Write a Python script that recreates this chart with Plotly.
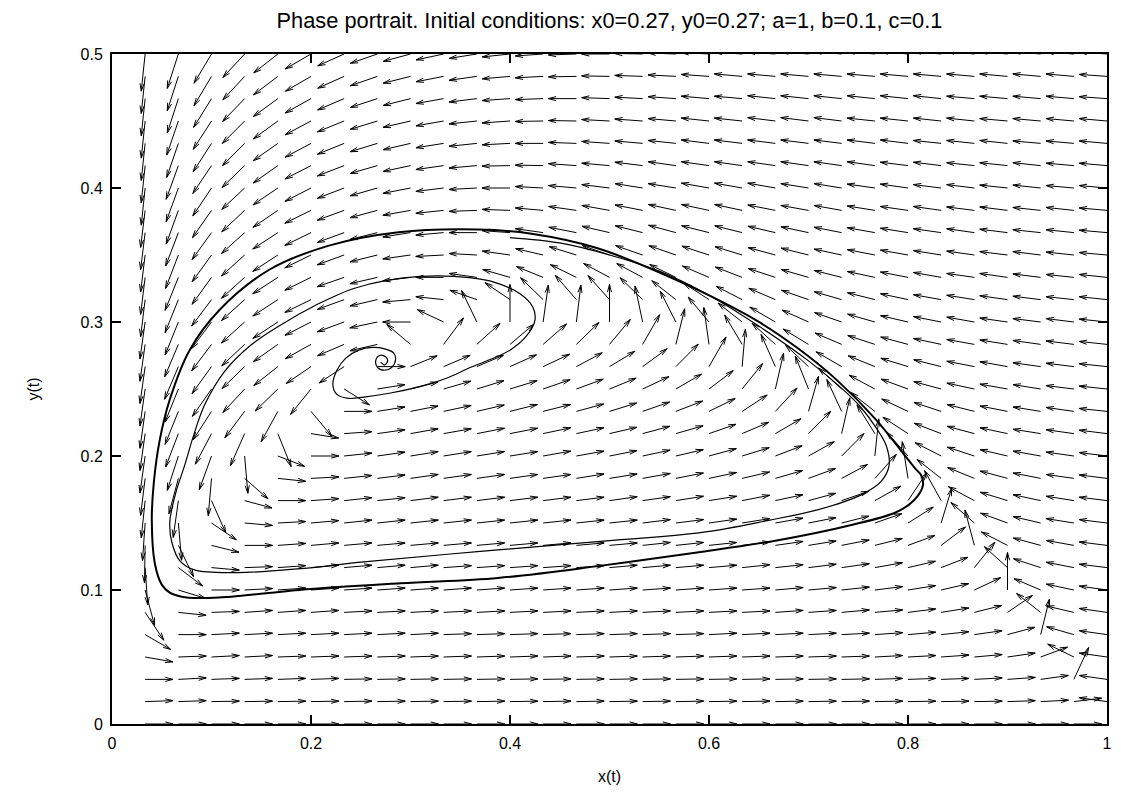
import math
import plotly.graph_objects as go

# grid of the direction field (data units)
x_nodes = [0.0333, 0.0667, 0.1, 0.1333, 0.1667, 0.2, 0.2333, 0.2667, 0.3, 0.3333,
           0.3667, 0.4, 0.4333, 0.4667, 0.5, 0.5333, 0.5667, 0.6, 0.6333, 0.6667,
           0.7, 0.7333, 0.7667, 0.8, 0.8333, 0.8667, 0.9, 0.9333, 0.9667, 1.0]
y_nodes = [0.0, 0.0167, 0.0333, 0.05, 0.0667, 0.0833, 0.1, 0.1167, 0.1333, 0.15,
           0.1667, 0.1833, 0.2, 0.2167, 0.2333, 0.25, 0.2667, 0.2833, 0.3, 0.3167,
           0.3333, 0.35, 0.3667, 0.3833, 0.4, 0.4167, 0.4333, 0.45, 0.4667, 0.4833, 0.5]

# arrow heading on screen, degrees (0 = right, 90 = up); one list per column, bottom to top
heading_deg = [
    [0, 2, 0, -10, -30, -56, -75, -86, -91, -94, -96, -97, -98, -98, -98, -98, -98, -98, -98, -97, -97, -97, -97, -97, -96, -96, -96, -96, -96, -96, -96],
    [0, 2, 3, 2, 0, -6, -17, -37, -64, -85, -98, -105, -108, -111, -112, -112, -113, -113, -112, -112, -112, -111, -111, -110, -110, -110, -109, -109, -108, -108, -108],
    [0, 1, 2, 3, 3, 2, 0, -5, -14, -34, -66, -95, -110, -118, -123, -125, -126, -127, -127, -127, -126, -126, -126, -125, -124, -124, -123, -123, -122, -121, -121],
    [0, 1, 2, 3, 3, 4, 3, 2, 0, -5, -15, -41, -85, -114, -127, -133, -136, -137, -138, -138, -138, -138, -138, -137, -137, -136, -135, -135, -134, -133, -133],
    [0, 1, 2, 2, 3, 4, 4, 4, 4, 3, 0, -6, -21, -68, -119, -136, -142, -145, -147, -147, -147, -147, -147, -146, -146, -145, -145, -144, -144, -143, -142],
    [0, 1, 2, 2, 3, 4, 4, 5, 5, 5, 4, 3, 0, -9, -50, -129, -146, -151, -153, -154, -154, -154, -154, -154, -153, -153, -152, -152, -151, -150, -150],
    [0, 1, 1, 2, 3, 3, 4, 5, 5, 6, 6, 6, 6, 4, 0, -32, -147, -157, -160, -160, -161, -160, -160, -160, -159, -159, -158, -158, -157, -156, -156],
    [0, 1, 1, 2, 3, 3, 4, 5, 5, 6, 6, 7, 8, 8, 9, 9, 0, -167, -168, -167, -167, -166, -166, -165, -164, -164, -163, -163, -162, -161, -161],
    [0, 1, 1, 2, 3, 3, 4, 5, 5, 6, 7, 8, 9, 10, 11, 14, 22, 140, 180, -175, -173, -172, -171, -170, -169, -168, -167, -167, -166, -166, -165],
    [0, 1, 1, 2, 2, 3, 4, 4, 5, 6, 7, 8, 9, 10, 12, 16, 23, 53, 155, 174, 180, -177, -175, -174, -173, -172, -171, -170, -170, -169, -168],
    [0, 1, 1, 2, 2, 3, 4, 4, 5, 6, 7, 8, 9, 11, 13, 17, 23, 42, 116, 161, 172, 177, 180, -178, -177, -175, -174, -174, -173, -172, -171],
    [0, 1, 1, 2, 2, 3, 4, 4, 5, 6, 7, 8, 9, 11, 14, 17, 24, 40, 90, 146, 164, 172, 176, 178, 180, -179, -177, -176, -176, -175, -174],
    [0, 1, 1, 2, 2, 3, 4, 4, 5, 6, 7, 8, 10, 12, 14, 19, 25, 41, 82, 136, 158, 167, 172, 175, 177, 179, 180, -179, -178, -177, -176],
    [0, 1, 1, 2, 2, 3, 4, 4, 5, 6, 7, 9, 10, 12, 15, 20, 28, 44, 83, 131, 154, 163, 169, 172, 175, 176, 178, 179, 180, -179, -178],
    [0, 1, 1, 2, 2, 3, 4, 5, 5, 6, 8, 9, 11, 13, 17, 22, 31, 50, 90, 132, 152, 161, 167, 170, 173, 175, 176, 177, 178, 179, 180],
    [0, 1, 1, 2, 2, 3, 4, 5, 6, 7, 8, 10, 12, 15, 19, 25, 36, 60, 102, 136, 152, 161, 166, 169, 171, 173, 175, 176, 177, 178, 179],
    [0, 1, 1, 2, 2, 3, 4, 5, 6, 7, 9, 11, 13, 16, 21, 30, 45, 76, 117, 142, 154, 161, 165, 168, 171, 172, 174, 175, 176, 177, 178],
    [0, 1, 1, 2, 3, 3, 4, 5, 6, 8, 9, 12, 15, 19, 26, 37, 60, 98, 130, 147, 157, 162, 166, 168, 170, 172, 173, 174, 175, 176, 177],
    [0, 1, 1, 2, 3, 3, 4, 6, 7, 9, 11, 13, 17, 23, 33, 51, 85, 121, 142, 153, 159, 163, 166, 168, 170, 172, 173, 174, 175, 175, 176],
    [0, 1, 1, 2, 3, 4, 5, 6, 8, 10, 12, 16, 21, 30, 47, 77, 114, 138, 150, 157, 162, 165, 167, 169, 170, 172, 173, 173, 174, 175, 176],
    [0, 1, 1, 2, 3, 4, 5, 7, 9, 11, 15, 20, 29, 45, 74, 112, 137, 149, 156, 161, 164, 166, 168, 170, 171, 172, 173, 173, 174, 175, 175],
    [0, 1, 1, 2, 3, 5, 6, 8, 11, 14, 19, 28, 45, 77, 115, 138, 150, 157, 161, 164, 166, 168, 169, 170, 171, 172, 173, 173, 174, 175, 175],
    [0, 1, 2, 3, 4, 5, 7, 10, 14, 19, 29, 48, 84, 122, 142, 152, 158, 162, 164, 166, 168, 169, 170, 171, 172, 172, 173, 174, 174, 175, 175],
    [0, 1, 2, 3, 5, 7, 9, 13, 20, 32, 56, 99, 132, 147, 155, 160, 163, 165, 167, 168, 169, 170, 171, 172, 172, 173, 173, 174, 174, 175, 175],
    [0, 1, 2, 4, 6, 9, 13, 21, 37, 73, 119, 142, 153, 159, 162, 165, 166, 168, 169, 170, 170, 171, 172, 172, 173, 173, 174, 174, 174, 175, 175],
    [0, 1, 3, 5, 8, 14, 25, 51, 105, 139, 152, 158, 162, 165, 166, 168, 169, 170, 170, 171, 172, 172, 172, 173, 173, 174, 174, 174, 175, 175, 175],
    [0, 2, 4, 8, 15, 34, 90, 138, 153, 160, 163, 165, 167, 168, 169, 170, 170, 171, 172, 172, 172, 173, 173, 173, 174, 174, 174, 175, 175, 175, 175],
    [0, 3, 8, 20, 76, 142, 157, 162, 165, 167, 168, 169, 170, 171, 171, 171, 172, 172, 173, 173, 173, 173, 174, 174, 174, 174, 175, 175, 175, 175, 175],
    [0, 7, 65, 154, 164, 167, 168, 169, 170, 171, 171, 172, 172, 172, 172, 173, 173, 173, 173, 174, 174, 174, 174, 174, 175, 175, 175, 175, 175, 175, 176],
    [None, 172, 172, 172, 172, 172, 172, 173, 173, 173, 173, 173, 173, 173, 174, 174, 174, 174, 174, 174, 174, 175, 175, 175, 175, 175, 175, 175, 176, 176, 176],
]

# trajectory: spiral out of the start point
traj_x = [0.270, 0.274, 0.277, 0.275, 0.269, 0.265, 0.267, 0.274, 0.281, 0.285, 0.283,
          0.274, 0.262, 0.248, 0.235, 0.226, 0.222, 0.226, 0.238, 0.253, 0.280, 0.310,
          0.336, 0.360, 0.380, 0.400, 0.416, 0.425, 0.423, 0.410, 0.383, 0.343, 0.310,
          0.276, 0.243, 0.226, 0.206, 0.170, 0.140, 0.113, 0.093, 0.081, 0.073, 0.065,
          0.060, 0.058, 0.060, 0.068, 0.083, 0.126, 0.190, 0.253, 0.373, 0.503, 0.593,
          0.660, 0.710, 0.753, 0.773, 0.781, 0.778, 0.768, 0.753, 0.740, 0.700, 0.650,
          0.600, 0.550, 0.500, 0.450, 0.400]
traj_y = [0.270, 0.268, 0.271, 0.274, 0.275, 0.271, 0.266, 0.264, 0.266, 0.272, 0.277,
          0.280, 0.281, 0.279, 0.273, 0.264, 0.253, 0.246, 0.243, 0.244, 0.247, 0.252,
          0.258, 0.266, 0.272, 0.279, 0.289, 0.301, 0.311, 0.321, 0.330, 0.334, 0.334,
          0.331, 0.325, 0.320, 0.313, 0.298, 0.283, 0.263, 0.238, 0.213, 0.193, 0.175,
          0.160, 0.150, 0.136, 0.122, 0.115, 0.113, 0.116, 0.121, 0.129, 0.137, 0.143,
          0.152, 0.160, 0.171, 0.181, 0.193, 0.208, 0.221, 0.236, 0.246, 0.271, 0.297,
          0.320, 0.338, 0.350, 0.359, 0.363]

# limit cycle (drawn heavier, several passes overlap)
cycle_x = [0.368, 0.288, 0.218, 0.158, 0.108, 0.078, 0.058, 0.048, 0.042, 0.040, 0.043,
           0.050, 0.058, 0.070, 0.088, 0.120, 0.188, 0.290, 0.388, 0.490, 0.588, 0.668,
           0.740, 0.788, 0.806, 0.815, 0.813, 0.808, 0.793, 0.768, 0.728, 0.690, 0.648,
           0.568, 0.488, 0.420, 0.368]
cycle_y = [0.369, 0.367, 0.357, 0.339, 0.309, 0.279, 0.242, 0.212, 0.180, 0.152, 0.120,
           0.104, 0.098, 0.095, 0.094, 0.095, 0.100, 0.105, 0.109, 0.118, 0.128, 0.137,
           0.148, 0.158, 0.167, 0.178, 0.186, 0.190, 0.204, 0.227, 0.257, 0.280, 0.301,
           0.331, 0.355, 0.366, 0.369]

# the page body adds an 8 px offset, so the figure is 8 px smaller on the top/left
W, H = 1113, 787
M_L, M_R, M_T, M_B = 104, 9, 46, 71
X_RANGE = (0, 1)
Y_RANGE = (0, 0.5)
ARROW_LEN = 0.028      # data units (field normalised in data space)
HEAD_PX = 8.0
HEAD_ANG = 15.0

sx = (W - M_L - M_R) / (X_RANGE[1] - X_RANGE[0])
sy = (H - M_T - M_B) / (Y_RANGE[1] - Y_RANGE[0])

ax, ay = [], []
for i, x0 in enumerate(x_nodes):
    for j, y0 in enumerate(y_nodes):
        th = heading_deg[i][j]
        if th is None:
            continue
        t = math.radians(th)
        ux, uy = math.cos(t) / sx, math.sin(t) / sy
        n = math.hypot(ux, uy)
        x1 = x0 + ARROW_LEN * ux / n
        y1 = y0 + ARROW_LEN * uy / n
        ang = math.atan2((y1 - y0) * sy, (x1 - x0) * sx)
        ax += [x0, x1, None]
        ay += [y0, y1, None]
        for s in (1, -1):
            b = ang + math.pi + s * math.radians(HEAD_ANG)
            ax += [x1 + HEAD_PX * math.cos(b) / sx, x1, None]
            ay += [y1 + HEAD_PX * math.sin(b) / sy, y1, None]

fig = go.Figure()
fig.add_trace(go.Scatter(x=ax, y=ay, mode='lines',
                         line=dict(color='black', width=1),
                         hoverinfo='skip', showlegend=False))
fig.add_trace(go.Scatter(x=traj_x, y=traj_y, mode='lines',
                         line=dict(color='black', width=1.2, shape='spline'),
                         showlegend=False))
fig.add_trace(go.Scatter(x=cycle_x, y=cycle_y, mode='lines',
                         line=dict(color='black', width=2, shape='spline'),
                         showlegend=False))

axis_common = dict(showline=True, linecolor='black', linewidth=2, mirror='ticks',
                   ticks='inside', ticklen=9, tickwidth=1.5, tickcolor='black',
                   showgrid=False, zeroline=False, ticklabelstandoff=4,
                   tickfont=dict(family='Liberation Sans', size=16, color='black'))

fig.update_layout(
    width=W, height=H,
    margin=dict(l=M_L, r=M_R, t=M_T, b=M_B),
    plot_bgcolor='white', paper_bgcolor='white',
    title=dict(text='Phase portrait. Initial conditions: x0=0.27, y0=0.27; a=1, b=0.1, c=0.1',
               x=0.5, xanchor='center', xref='paper', y=1 - 12 / H, yanchor='middle',
               font=dict(family='Liberation Sans', size=21.8, color='black')),
    xaxis=dict(range=list(X_RANGE), tickvals=[0, 0.2, 0.4, 0.6, 0.8, 1],
               ticktext=['0', '0.2', '0.4', '0.6', '0.8', '1'],
               title=dict(text='x(t)', standoff=20,
                          font=dict(family='Liberation Sans', size=16, color='black')),
               **axis_common),
    yaxis=dict(range=list(Y_RANGE), tickvals=[0, 0.1, 0.2, 0.3, 0.4, 0.5],
               ticktext=['0', '0.1', '0.2', '0.3', '0.4', '0.5'],
               title=dict(text='y(t)', standoff=37,
                          font=dict(family='Liberation Sans', size=16, color='black')),
               **axis_common),
)

fig.write_html("out.html")
